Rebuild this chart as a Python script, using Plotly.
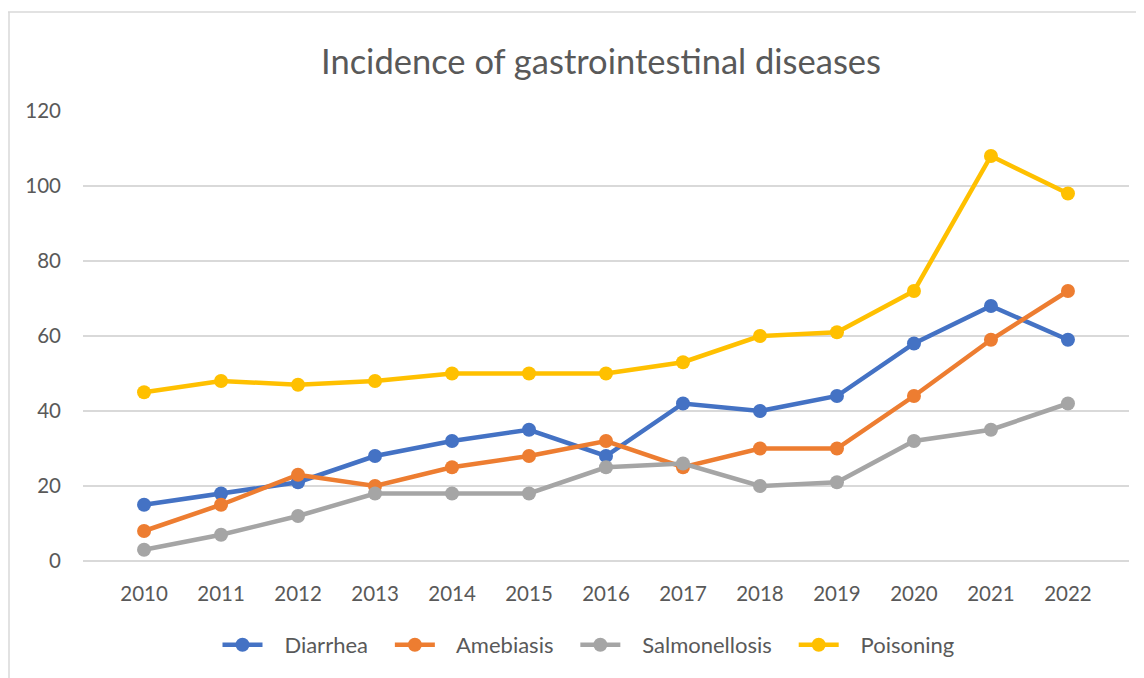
import plotly.graph_objects as go

years = ["2010", "2011", "2012", "2013", "2014", "2015", "2016",
         "2017", "2018", "2019", "2020", "2021", "2022"]
diarrhea = [15, 18, 21, 28, 32, 35, 28, 42, 40, 44, 58, 68, 59]
amebiasis = [8, 15, 23, 20, 25, 28, 32, 25, 30, 30, 44, 59, 72]
salmonellosis = [3, 7, 12, 18, 18, 18, 25, 26, 20, 21, 32, 35, 42]
poisoning = [45, 48, 47, 48, 50, 50, 50, 53, 60, 61, 72, 108, 98]

series = [
    ("Diarrhea", diarrhea, "#4472C4"),
    ("Amebiasis", amebiasis, "#ED7D31"),
    ("Salmonellosis", salmonellosis, "#A5A5A5"),
    ("Poisoning", poisoning, "#FFC000"),
]

# page body has an ~8px offset, so work in figure coords = screen - 8
OFF = 8
W, H = 1144 - OFF, 678 - OFF
L = 83 - OFF
T = 111 - OFF
R = 1144 - 1129
B = 678 - 561
pw, ph = W - L - R, H - T - B

NB = "\u00a0"
fig = go.Figure()
for name, vals, col in series:
    fig.add_trace(go.Scatter(
        x=years, y=vals, name=NB * 3 + name + NB * 3, mode="lines+markers",
        line=dict(color=col, width=4.5),
        marker=dict(color=col, size=14),
    ))

font = "Lato, 'Open Sans', sans-serif"
fig.update_layout(
    width=W, height=H,
    margin=dict(l=L, r=R, t=T, b=B),
    paper_bgcolor="white", plot_bgcolor="white",
    title=dict(text="Incidence of gastrointestinal diseases",
               x=(601 - OFF) / W, xanchor="center",
               y=1 - (62 - OFF) / H, yanchor="middle",
               font=dict(family=font, size=34.5, color="#595959")),
    font=dict(family=font, color="#595959", size=20),
    xaxis=dict(type="category", showgrid=False, showline=False,
               ticks="", tickfont=dict(size=20.5, color="#595959"),
               ticklabelstandoff=18),
    yaxis=dict(range=[0, 120], dtick=20, showgrid=True,
               gridcolor="#D9D9D9", gridwidth=1.5, zeroline=True,
               zerolinecolor="#D9D9D9", zerolinewidth=1.5,
               ticks="", tickfont=dict(size=20.5, color="#595959"),
               ticklabelstandoff=21),
    legend=dict(orientation="h", x=(597 - 83) / pw,
                xanchor="center", y=-(645 - 561) / ph, yanchor="middle",
                font=dict(size=22, color="#595959"), itemwidth=40,
                tracegroupgap=0),
    showlegend=True,
    shapes=[
        dict(type="line", xref="paper", yref="paper",
             x0=-L / pw, x1=(W - L) / pw,
             y0=1 + (T - (12 - OFF)) / ph, y1=1 + (T - (12 - OFF)) / ph,
             line=dict(color="#D9D9D9", width=1.5)),
        dict(type="line", xref="paper", yref="paper",
             x0=(-L + 1) / pw, x1=(-L + 1) / pw,
             y0=1 + (T - (12 - OFF)) / ph, y1=-(H - T - ph) / ph,
             line=dict(color="#D9D9D9", width=1.5)),
    ],
)

fig.write_html("out.html")
